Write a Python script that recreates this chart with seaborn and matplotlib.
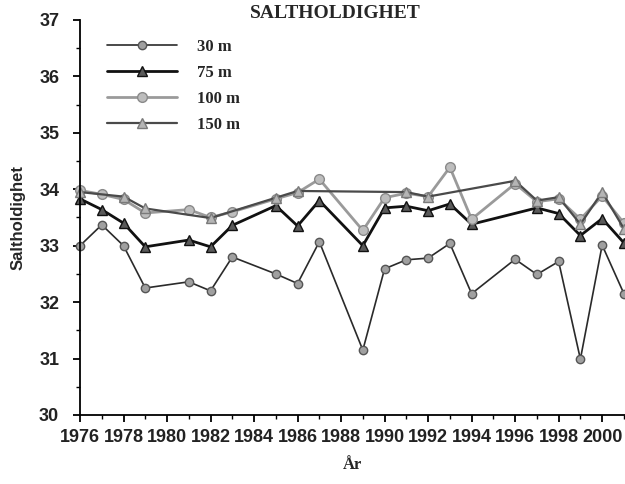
import matplotlib
matplotlib.use("Agg")
import matplotlib.pyplot as plt
import matplotlib.ticker as mticker
from matplotlib import font_manager
import seaborn as sns
import pandas as pd

# ---- data ----
years_30 = [1976, 1977, 1978, 1979, 1981, 1982, 1983, 1985, 1986, 1987, 1989, 1990,
            1991, 1992, 1993, 1994, 1996, 1997, 1998, 1999, 2000, 2001]
sal_30 = [33.0, 33.37, 33.0, 32.25, 32.36, 32.2, 32.8, 32.5, 32.33, 33.07, 31.15, 32.59,
          32.75, 32.78, 33.04, 32.15, 32.76, 32.49, 32.72, 30.99, 33.01, 32.15]

years_75 = [1976, 1977, 1978, 1979, 1981, 1982, 1983, 1985, 1986, 1987, 1989, 1990,
            1991, 1992, 1993, 1994, 1997, 1998, 1999, 2000, 2001]
sal_75 = [33.83, 33.64, 33.4, 32.98, 33.1, 32.98, 33.36, 33.71, 33.35, 33.8, 33.0, 33.67,
          33.7, 33.62, 33.74, 33.38, 33.67, 33.57, 33.18, 33.48, 33.05]

years_100 = [1976, 1977, 1978, 1979, 1981, 1982, 1983, 1985, 1986, 1987, 1989, 1990,
             1991, 1992, 1993, 1994, 1996, 1997, 1998, 1999, 2000, 2001]
sal_100 = [33.98, 33.91, 33.82, 33.58, 33.64, 33.5, 33.6, 33.83, 33.94, 34.18, 33.27, 33.85,
           33.93, 33.87, 34.39, 33.47, 34.1, 33.78, 33.83, 33.47, 33.88, 33.4]

years_150 = [1976, 1978, 1979, 1982, 1985, 1986, 1991, 1992, 1996, 1997, 1998, 1999, 2000, 2001]
sal_150 = [33.95, 33.87, 33.66, 33.49, 33.85, 33.97, 33.95, 33.87, 34.15, 33.8, 33.86, 33.38,
           33.95, 33.3]

labels = ["30 m", "75 m", "100 m", "150 m"]
title = "SALTHOLDIGHET"
xlabel = "År"
ylabel = "Saltholdighet"

# ---- style ----
sns.set_style("ticks")
avail = {f.name for f in font_manager.fontManager.ttflist}
tick_family = "Liberation Sans Narrow" if "Liberation Sans Narrow" in avail else "Liberation Sans"
plt.rcParams["font.family"] = ["Liberation Sans", "DejaVu Sans"]

fig = plt.figure(figsize=(6.25, 4.84), dpi=100)
ax = fig.add_axes([0.128, 0.1426, 0.872, 0.8161])

series = [
    (years_30, sal_30, dict(color="#2a2a2a", lw=1.2, marker="o", ms=6,
                            mfc="#a0a0a0", mec="#555555", mew=1.0)),
    (years_75, sal_75, dict(color="#111111", lw=2.0, marker="^", ms=7,
                            mfc="#5a5a5a", mec="#111111", mew=1.0)),
    (years_100, sal_100, dict(color="#9a9a9a", lw=2.0, marker="o", ms=7,
                              mfc="#bdbdbd", mec="#8a8a8a", mew=1.0)),
    (years_150, sal_150, dict(color="#4a4a4a", lw=1.6, marker="^", ms=7.5,
                              mfc="#b5b5b5", mec="#7a7a7a", mew=1.0)),
]

for (xs, ys, kw), lab in zip(series, labels):
    df = pd.DataFrame({"year": xs, "sal": ys})
    sns.lineplot(data=df, x="year", y="sal", ax=ax, label=lab, clip_on=False,
                 color=kw["color"], linewidth=kw["lw"], marker=kw["marker"],
                 markersize=kw["ms"], markerfacecolor=kw["mfc"],
                 markeredgecolor=kw["mec"], markeredgewidth=kw["mew"])

ax.set_xlim(1976, 2001.05)
ax.set_ylim(30, 37)
ax.xaxis.set_major_locator(mticker.MultipleLocator(2))
ax.xaxis.set_minor_locator(mticker.MultipleLocator(1))
ax.yaxis.set_major_locator(mticker.MultipleLocator(1))
ax.yaxis.set_minor_locator(mticker.MultipleLocator(0.5))
ax.xaxis.set_major_formatter(mticker.FormatStrFormatter("%d"))
ax.yaxis.set_major_formatter(mticker.FormatStrFormatter("%d"))

sns.despine(ax=ax)
for s in ("left", "bottom"):
    ax.spines[s].set_color("black")
    ax.spines[s].set_linewidth(1.3)
ax.tick_params(axis="both", which="major", length=5, width=1.3, color="black",
               direction="out")
ax.tick_params(axis="x", which="major", pad=5)
ax.tick_params(axis="y", which="major", pad=10)
ax.tick_params(axis="both", which="minor", length=3, width=1.0, color="black",
               direction="out")
for t in ax.get_xticklabels() + ax.get_yticklabels():
    t.set_fontfamily(tick_family)
    t.set_fontweight("bold")
    t.set_fontsize(13)
    t.set_color("#222222")

ax.set_xlabel(xlabel, family="Liberation Serif", weight="bold", fontsize=12, labelpad=8)
ax.set_ylabel(ylabel, family="Liberation Sans", weight="bold", fontsize=12, labelpad=10)

fig.text(0.536, 0.972, title, family="Liberation Serif", weight="bold", fontsize=14,
         ha="center", va="center")

leg = ax.legend(loc="upper left", bbox_to_anchor=(0.022, 0.99), frameon=False,
                handlelength=4.2, handletextpad=1.2, labelspacing=0.6,
                prop={"family": "Liberation Serif", "weight": "bold", "size": 12})

fig.savefig("out.png", dpi=100)
